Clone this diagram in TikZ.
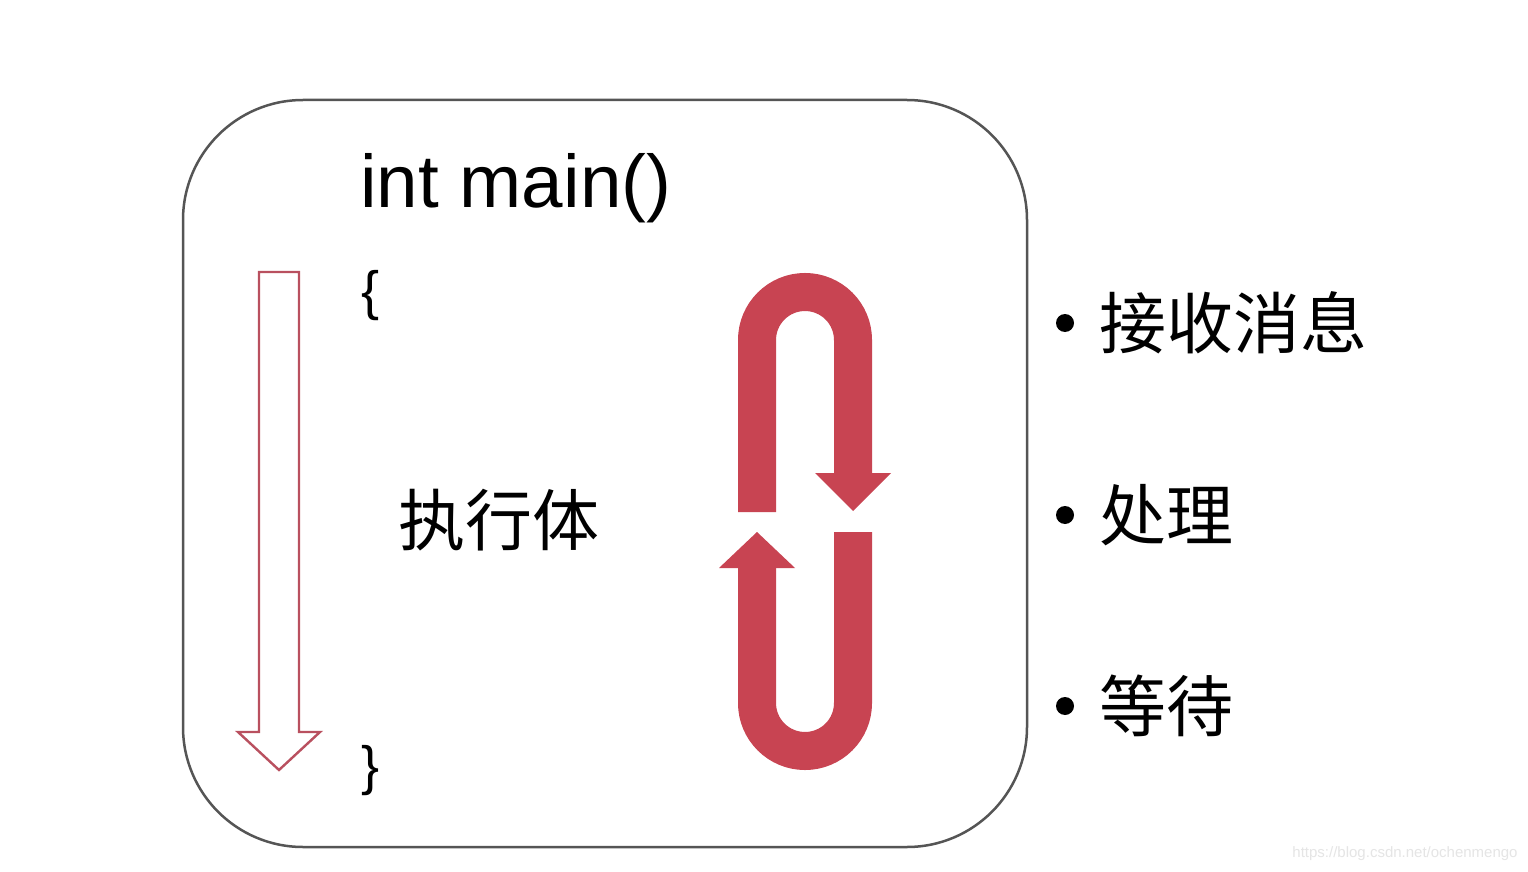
\documentclass[tikz,border=0pt]{standalone}
\usepackage{fontspec}
\setmainfont{Liberation Sans}
\newfontfamily\cjk{Noto Sans CJK SC}
\usetikzlibrary{positioning}
\definecolor{loopred}{RGB}{200,68,82}
\definecolor{flowred}{RGB}{185,80,95}
\definecolor{frame}{RGB}{85,85,85}
\tikzset{
  code/.style={inner sep=0pt,anchor=base west,font=\fontsize{37.3}{40}\selectfont},
  brace/.style={inner sep=0pt,anchor=west,font=\fontsize{27}{30}\selectfont},
  zh/.style={inner sep=0pt,anchor=west,font=\cjk\fontsize{33.5}{36}\selectfont},
  dot/.style={circle,fill=black,inner sep=0pt,minimum size=9pt},
  loop/.style={draw=loopred,line width=19pt},
  head/.style={fill=loopred},
  flow/.style={draw=flowred,line width=1.2pt,fill=white},
}
\begin{document}
\begin{tikzpicture}[x=0.5pt,y=-0.5pt]
 \useasboundingbox[fill=white] (0,0) rectangle (1528,872);
 % program frame
 \draw[frame,line width=1.25pt,rounded corners=60pt] (183,100) rectangle (1027,847);
 \node[code] (main) at (360,207) {int main()};
 \node[brace] (open) at (361,296) {\{};
 \node[brace] (close) at (361,771) {\}};
 \node[zh] (body) at (398,520) {执行体};
 % straight flow of the program
 \draw[flow] (259,272) -- (299,272) -- (299,732) -- (320,732) -- (279,770)
   -- (238,732) -- (259,732) -- cycle;
 % message loop
 \draw[loop] (757,512) -- (757,340) arc (180:360:48) -- (853,473);
 \fill[head] (815,473) -- (891,473) -- (853,511) -- cycle;
 \draw[loop] (757,568) -- (757,703) arc (180:0:48) -- (853,532);
 \fill[head] (719,568) -- (795,568) -- (757,532) -- cycle;
 % steps of the loop
 \foreach \y/\t/\n in {323/接收消息/recv,515/处理/proc,706/等待/wait}{
   \node[dot] (d\n) at (1065,\y) {};
   \node[zh] (\n) at (1099,\y) {\t};
 }
 \node[inner sep=0pt,anchor=east,text=black!10,font=\fontsize{7.5}{8}\selectfont] (mark) at (1518,854) {https://blog.csdn.net/ochenmengo};
\end{tikzpicture}
\end{document}
